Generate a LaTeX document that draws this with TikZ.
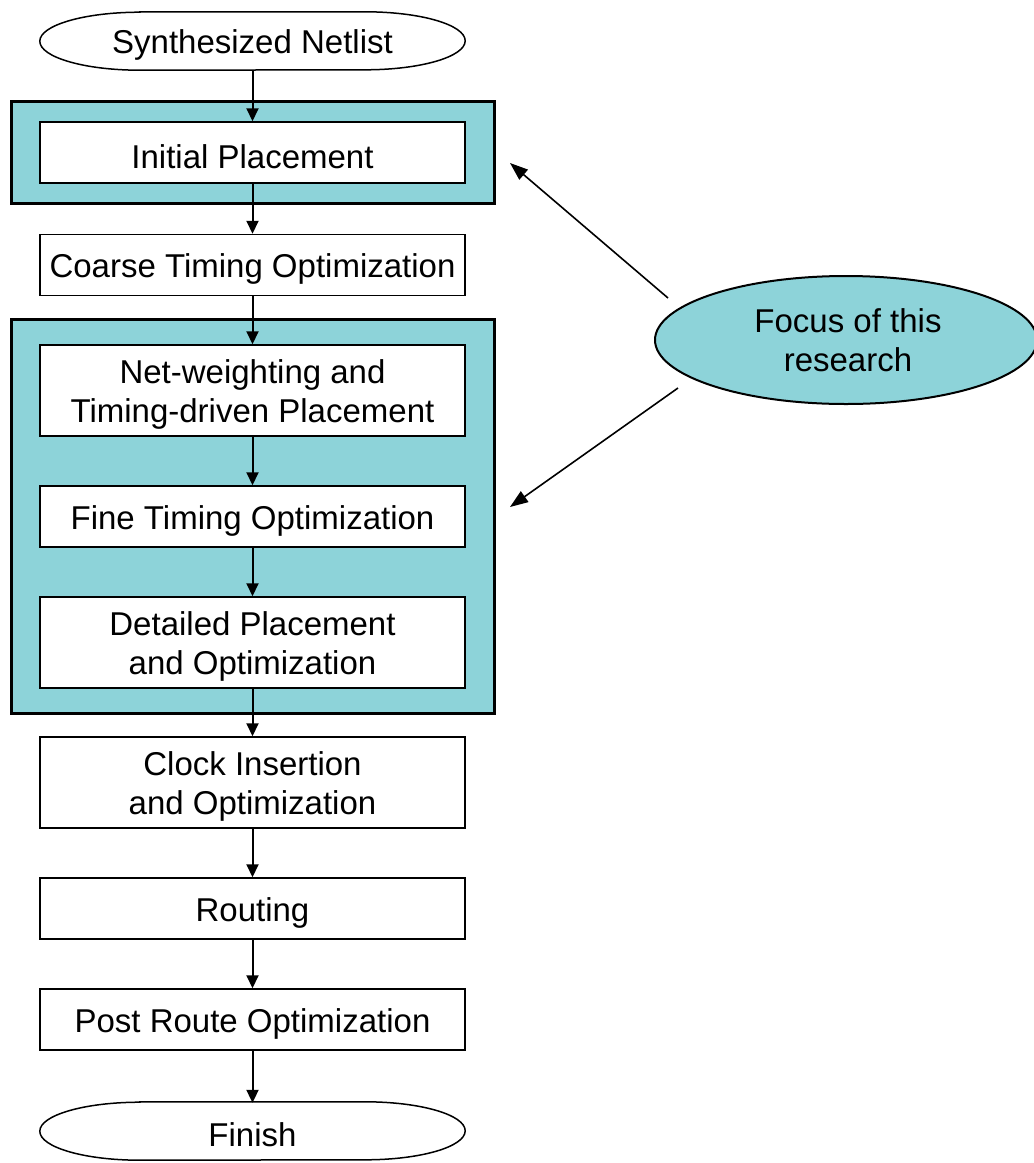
\documentclass[tikz,border=0pt]{standalone}
\usepackage{fontspec}
\setmainfont{Liberation Sans}
\usetikzlibrary{arrows.meta,shapes.geometric}
\definecolor{focusteal}{RGB}{141,211,217}
\begin{document}
\begin{tikzpicture}[x=1pt,y=-1pt,
  every node/.style={font=\fontsize{33}{39}\selectfont, align=center, inner sep=0pt},
  % caption text sits a little below the geometric centre of its frame
  caption/.style={label={[yshift=-4pt, align=center]center:#1}},
  stepbox/.style={draw, line width=1.5pt, fill=white, minimum width=425pt, minimum height=61pt},
  tallbox/.style={stepbox, minimum height=91pt},
  groupbox/.style={draw, line width=3pt, fill=focusteal},
  termnode/.style={minimum width=425pt, minimum height=58pt},
  termline/.style={draw, line width=1.5pt, fill=white},
  flow/.style={line width=2pt, -{Triangle[length=13pt,width=12pt]}},
  pointer/.style={line width=1.6pt, -{Triangle[length=18pt,width=13pt]}}
]
\useasboundingbox (0,0) rectangle (1034,1163);

% shaded groups
\draw[groupbox] (11,101) rectangle (494,203);
\draw[groupbox] (11,319) rectangle (494,713);

% terminators
\node[termnode] (start) at (252.5,41) {};
\node[termnode] (finish) at (252.5,1131) {};
\foreach \t in {start,finish}{
  \draw[termline] ([xshift=100pt]\t.north west) -- ([xshift=-100pt]\t.north east)
    arc[start angle=90,end angle=-90,x radius=100pt,y radius=29pt]
    -- ([xshift=100pt]\t.south west)
    arc[start angle=270,end angle=90,x radius=100pt,y radius=29pt] -- cycle;
}
\node[caption={Synthesized Netlist}] (starttext) at (start) {};
\node[caption={Finish}] (finishtext) at (finish) {};

% process steps
\node[stepbox, caption={Initial Placement}] (init) at (252.5,152.5) {};
\node[stepbox, caption={Coarse Timing Optimization}] (coarse) at (252.5,265) {};
\node[tallbox, caption={Net-weighting and\\Timing-driven Placement}] (netw) at (252.5,390.5) {};
\node[stepbox, caption={Fine Timing Optimization}] (fine) at (252.5,516.5) {};
\node[tallbox, caption={Detailed Placement\\and Optimization}] (detail) at (252.5,642.5) {};
\node[tallbox, caption={Clock Insertion\\and Optimization}] (clock) at (252.5,782.5) {};
\node[stepbox, caption={Routing}] (route) at (252.5,908.5) {};
\node[stepbox, caption={Post Route Optimization}] (post) at (252.5,1019.5) {};

% flow arrows
\draw[flow] (start.south) -- (init.north);
\draw[flow] (init.south) -- (coarse.north);
\draw[flow] (coarse.south) -- (netw.north);
\draw[flow] (netw.south) -- (fine.north);
\draw[flow] (fine.south) -- (detail.north);
\draw[flow] (detail.south) -- (clock.north);
\draw[flow] (clock.south) -- (route.north);
\draw[flow] (route.south) -- (post.north);
\draw[flow] (post.south) -- ([yshift=-1pt]finish.north);

% annotation
\node[ellipse, draw, line width=2pt, fill=focusteal, minimum width=382pt, minimum height=128pt] (focus) at (846,340) {};
\node (focustext) at (848,340) {Focus of this\\research};
\coordinate (tipA) at (510,163);
\coordinate (tipB) at (510,507);
\coordinate (tailA) at (668,298);
\coordinate (tailB) at (678,388);
\draw[pointer] (tailA) -- (tipA);
\draw[pointer] (tailB) -- (tipB);
\end{tikzpicture}
\end{document}
